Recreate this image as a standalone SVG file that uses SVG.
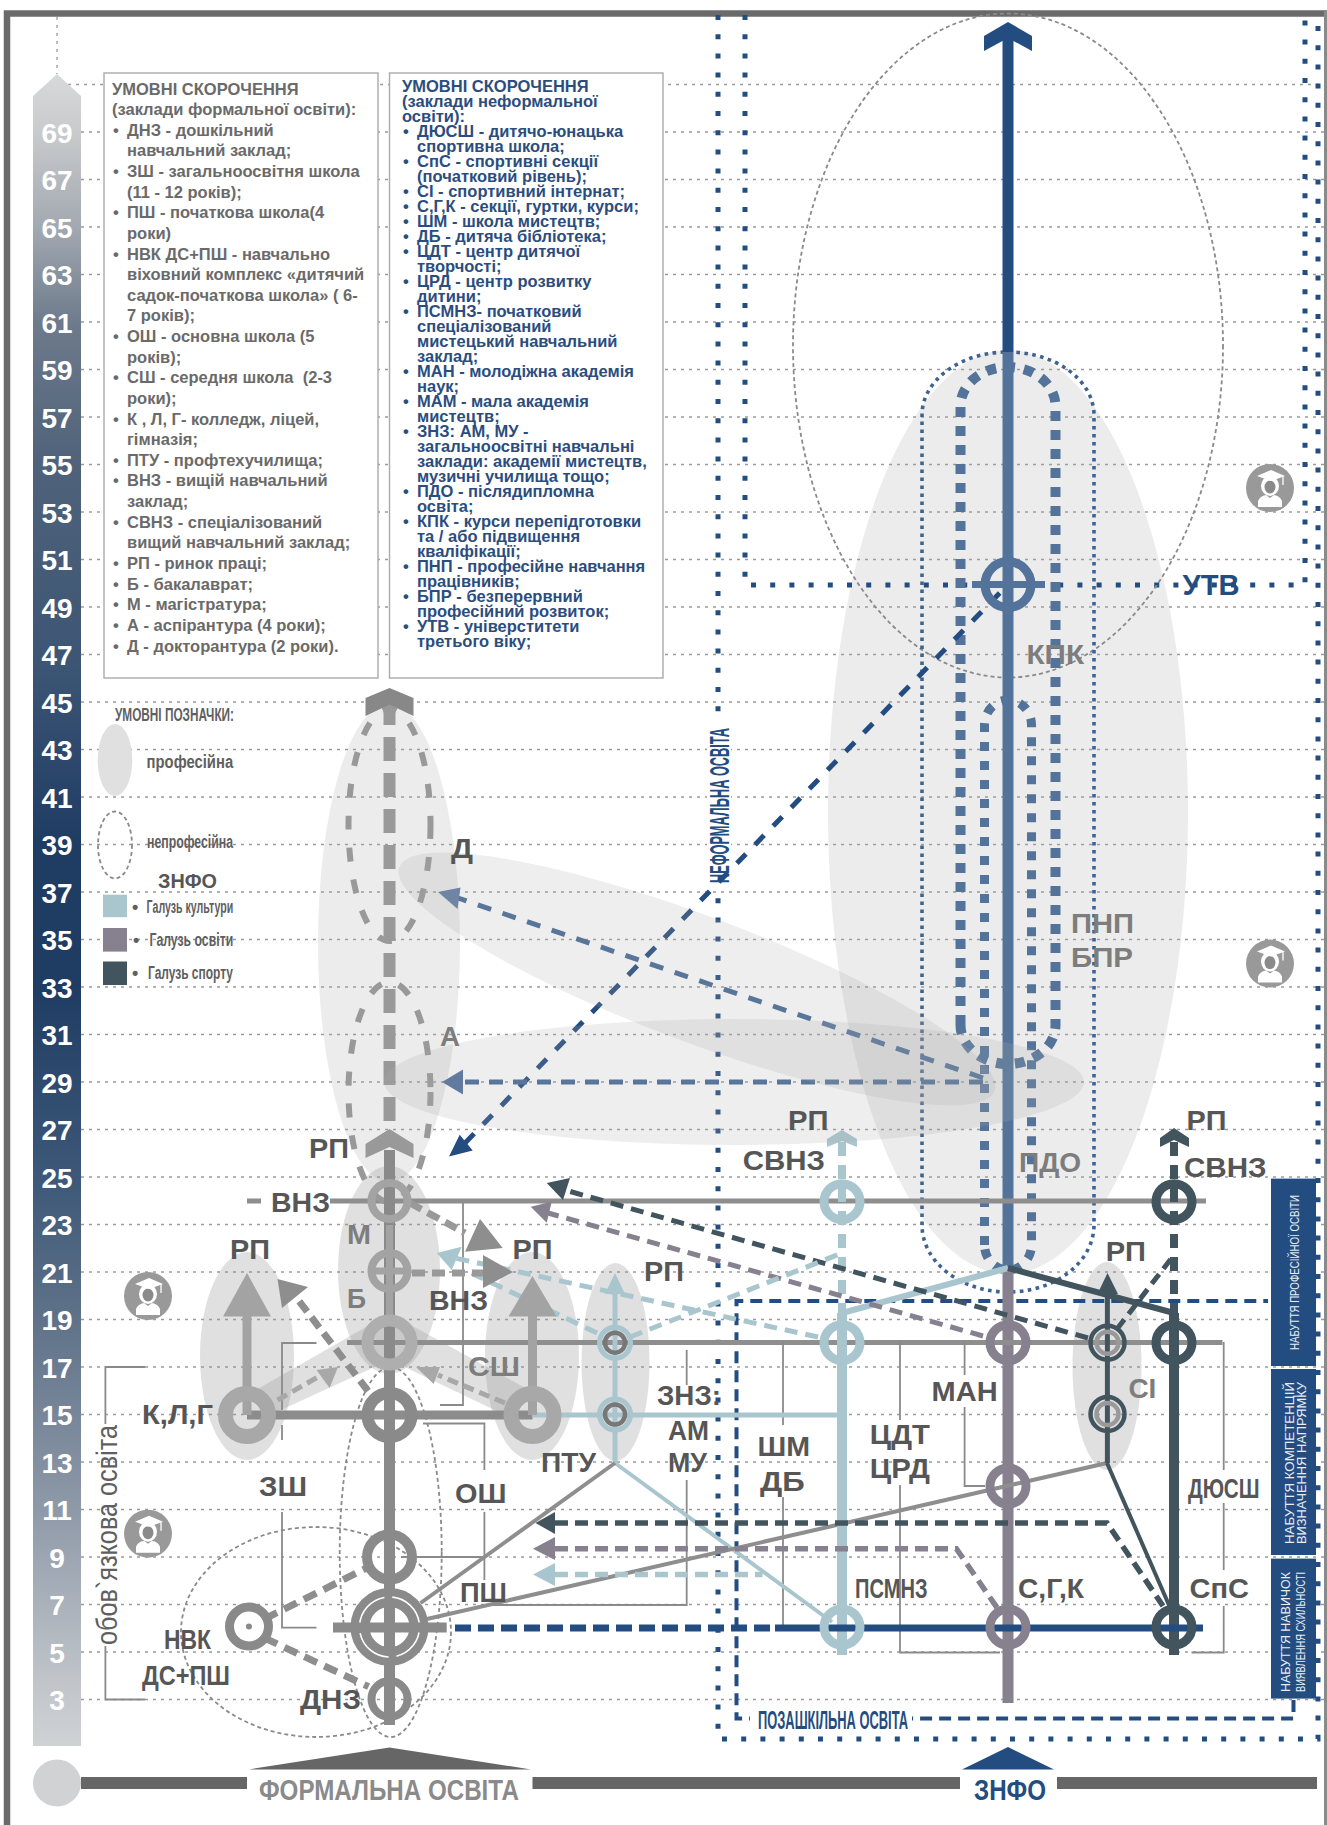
<svg xmlns="http://www.w3.org/2000/svg" width="1327" height="1825" viewBox="0 0 1327 1825">
<style>
text{font-family:"Liberation Sans",Arial,sans-serif}
.num{font-size:28px;font-weight:700;fill:#fff;text-anchor:middle}
.lg{font-size:16.5px;font-weight:700;fill:#6a6a6a}
.lb{font-size:16.5px;font-weight:700;fill:#2b4d7e}
.l{font-size:28px;font-weight:700;fill:#565656}
.m{font-size:28px;font-weight:700;fill:#7d7d7d}
.k{font-size:18px;font-weight:700;fill:#5f5f5f}
.n{font-weight:700;fill:#234c80}
.v{font-size:12px;fill:#e8edf3;font-weight:400;text-anchor:middle}
.grid{fill:none;stroke:#9a9a9a;stroke-width:1.3;stroke-dasharray:3 5}
.thin{fill:none;stroke:#8a8a8a;stroke-width:1.8;stroke-dasharray:4 3}
.soft{fill:#aaa;opacity:.22}
.soft3{fill:#aaa;opacity:.2}
.soft2{fill:#999;opacity:.3}
.br{fill:none;stroke:#8a8a8a;stroke-width:1.8}
.dot{fill:none;stroke:#234c80;stroke-width:5;stroke-dasharray:5 14.2}
.f{fill:none}
.ga{stroke:#999;stroke-width:6;stroke-dasharray:14 18;fill:none}
.blue{fill:#a9c6cf}.pur{fill:#87808f}.drk{fill:#42555e}.nav{fill:#234c80}.gr{fill:#999}
.lt{stroke:#a9c6cf}.pr{stroke:#87808f}.dk{stroke:#42555e}.nv{stroke:#234c80}.gy{stroke:#8e8e8e}
</style>
<defs>
<linearGradient id="scale" gradientUnits="userSpaceOnUse" x1="0" y1="74" x2="0" y2="1746">
<stop offset="0" stop-color="#d8d9da"/><stop offset=".035" stop-color="#c8cacc"/><stop offset=".09" stop-color="#a4aab2"/><stop offset=".15" stop-color="#6d7a8b"/><stop offset=".234" stop-color="#4f627a"/><stop offset=".35" stop-color="#3d5675"/><stop offset=".46" stop-color="#1f3c63"/><stop offset=".546" stop-color="#1f3c63"/><stop offset=".66" stop-color="#3d5878"/><stop offset=".745" stop-color="#5f7289"/><stop offset=".86" stop-color="#8f9aa9"/><stop offset=".97" stop-color="#c4c8cc"/><stop offset="1" stop-color="#cfd2d5"/>
</linearGradient>
<g id="icon">
<circle r="24" fill="#999"/>
<path d="M-12,19 V13 Q-10,8 -4,7 L0,10 L4,7 Q10,8 12,13 V19 Z" fill="#fff"/>
<ellipse cx="0" cy="-2" rx="9" ry="10" fill="#fff"/>
<ellipse cx="0" cy="-1" rx="5.5" ry="6.5" fill="#8a8a8a"/>
<path d="M1,-18 L15,-12 L1,-7 L-13,-12 Z" fill="#fff"/>
<path d="M13,-12 V-3" stroke="#fff" stroke-width="1.3" fill="none"/>
</g>
</defs>
<rect width="1327" height="1825" fill="#fff"/>
<path class="grid" d="M60,84.5H1327M81,132H1327M81,179.5H1327M81,227H1327M81,274.5H1327M81,322H1327M81,369.5H1327M81,417H1327M81,464.5H1327M81,512H1327M81,559.5H1327M81,607H1327M81,654.5H1327M81,702H1327M81,749.5H1327M81,797H1327M81,844.5H1327M81,892H1327M81,939.5H1327M81,987H1327M81,1034.5H1327M81,1082H1327M81,1129.5H1327M81,1177H1327M81,1224.5H1327M81,1272H1327M81,1319.5H1327M81,1367H1327M81,1414.5H1327M81,1462H1327M81,1509.5H1327M81,1557H1327M81,1604.5H1327M81,1652H1327M81,1699.5H1327M57,17V74"/>
<path d="M7,1825V13.5H1327" fill="none" stroke="#6a6a6a" stroke-width="6.5"/>
<path d="M1325.5,10V1825" stroke="#8a8a8a" stroke-width="3" fill="none"/>

<g id="age-scale">
<polygon points="57,74 81,96 81,1746 33,1746 33,96" fill="url(#scale)"/>
<text class="num" x="57" y="142.5">69</text><text class="num" x="57" y="190">67</text><text class="num" x="57" y="237.5">65</text><text class="num" x="57" y="285">63</text><text class="num" x="57" y="332.5">61</text><text class="num" x="57" y="380">59</text><text class="num" x="57" y="427.5">57</text><text class="num" x="57" y="475">55</text><text class="num" x="57" y="522.5">53</text><text class="num" x="57" y="570">51</text><text class="num" x="57" y="617.5">49</text><text class="num" x="57" y="665">47</text><text class="num" x="57" y="712.5">45</text><text class="num" x="57" y="760">43</text><text class="num" x="57" y="807.5">41</text><text class="num" x="57" y="855">39</text><text class="num" x="57" y="902.5">37</text><text class="num" x="57" y="950">35</text><text class="num" x="57" y="997.5">33</text><text class="num" x="57" y="1045">31</text><text class="num" x="57" y="1092.5">29</text><text class="num" x="57" y="1140">27</text><text class="num" x="57" y="1187.5">25</text><text class="num" x="57" y="1235">23</text><text class="num" x="57" y="1282.5">21</text><text class="num" x="57" y="1330">19</text><text class="num" x="57" y="1377.5">17</text><text class="num" x="57" y="1425">15</text><text class="num" x="57" y="1472.5">13</text><text class="num" x="57" y="1520">11</text><text class="num" x="57" y="1567.5">9</text><text class="num" x="57" y="1615">7</text><text class="num" x="57" y="1662.5">5</text><text class="num" x="57" y="1710">3</text>
</g>

<g id="legend-formal">
<rect x="104" y="73" width="274" height="605" fill="#fff" stroke="#aaa" stroke-width="1.4"/>
<text class="lg" x="112" y="94.5">УМОВНІ СКОРОЧЕННЯ</text>
<text class="lg" x="112" y="115.1">(заклади формальної освіти):</text>
<text class="lg" y="135.8"><tspan x="113">•</tspan><tspan x="127">ДНЗ - дошкільний</tspan></text>
<text class="lg" x="127" y="156.4">навчальний заклад;</text>
<text class="lg" y="177"><tspan x="113">•</tspan><tspan x="127">ЗШ - загальноосвітня школа</tspan></text>
<text class="lg" x="127" y="197.7">(11 - 12 років);</text>
<text class="lg" y="218.3"><tspan x="113">•</tspan><tspan x="127">ПШ - початкова школа(4</tspan></text>
<text class="lg" x="127" y="238.9">роки)</text>
<text class="lg" y="259.5"><tspan x="113">•</tspan><tspan x="127">НВК ДС+ПШ - навчально</tspan></text>
<text class="lg" x="127" y="280.2">віховний комплекс «дитячий</text>
<text class="lg" x="127" y="300.8">садок-початкова школа» ( 6-</text>
<text class="lg" x="127" y="321.4">7 років);</text>
<text class="lg" y="342"><tspan x="113">•</tspan><tspan x="127">ОШ - основна школа (5</tspan></text>
<text class="lg" x="127" y="362.7">років);</text>
<text class="lg" y="383.3" xml:space="preserve"><tspan x="113">•</tspan><tspan x="127">СШ - середня школа  (2-3</tspan></text>
<text class="lg" x="127" y="403.9">роки);</text>
<text class="lg" y="424.6"><tspan x="113">•</tspan><tspan x="127">К , Л, Г- колледж, ліцей,</tspan></text>
<text class="lg" x="127" y="445.2">гімназія;</text>
<text class="lg" y="465.8"><tspan x="113">•</tspan><tspan x="127">ПТУ - профтехучилища;</tspan></text>
<text class="lg" y="486.4"><tspan x="113">•</tspan><tspan x="127">ВНЗ - вищій навчальний</tspan></text>
<text class="lg" x="127" y="507.1">заклад;</text>
<text class="lg" y="527.7"><tspan x="113">•</tspan><tspan x="127">СВНЗ - спеціалізований</tspan></text>
<text class="lg" x="127" y="548.3">вищий навчальний заклад;</text>
<text class="lg" y="569"><tspan x="113">•</tspan><tspan x="127">РП - ринок праці;</tspan></text>
<text class="lg" y="589.6"><tspan x="113">•</tspan><tspan x="127">Б - бакалаврат;</tspan></text>
<text class="lg" y="610.2"><tspan x="113">•</tspan><tspan x="127">М - магістратура;</tspan></text>
<text class="lg" y="630.8"><tspan x="113">•</tspan><tspan x="127">А - аспірантура (4 роки);</tspan></text>
<text class="lg" y="651.5"><tspan x="113">•</tspan><tspan x="127">Д - докторантура (2 роки).</tspan></text>
</g>

<g id="legend-nonformal">
<rect x="389.5" y="73" width="273.5" height="605" fill="#fff" stroke="#aaa" stroke-width="1.4"/>
<text class="lb" x="402" y="92">УМОВНІ СКОРОЧЕННЯ</text>
<text class="lb" x="402" y="107">(заклади неформальної</text>
<text class="lb" x="402" y="122">освіти):</text>
<text class="lb" y="137"><tspan x="403">•</tspan><tspan x="417">ДЮСШ - дитячо-юнацька</tspan></text>
<text class="lb" x="417" y="152">спортивна школа;</text>
<text class="lb" y="167"><tspan x="403">•</tspan><tspan x="417">СпС - спортивні секції</tspan></text>
<text class="lb" x="417" y="182">(початковий рівень);</text>
<text class="lb" y="197"><tspan x="403">•</tspan><tspan x="417">СІ - спортивний інтернат;</tspan></text>
<text class="lb" y="212"><tspan x="403">•</tspan><tspan x="417">С,Г,К - секції, гуртки, курси;</tspan></text>
<text class="lb" y="227"><tspan x="403">•</tspan><tspan x="417">ШМ - школа мистецтв;</tspan></text>
<text class="lb" y="242"><tspan x="403">•</tspan><tspan x="417">ДБ - дитяча бібліотека;</tspan></text>
<text class="lb" y="257"><tspan x="403">•</tspan><tspan x="417">ЦДТ - центр дитячої</tspan></text>
<text class="lb" x="417" y="272">творчості;</text>
<text class="lb" y="287"><tspan x="403">•</tspan><tspan x="417">ЦРД - центр розвитку</tspan></text>
<text class="lb" x="417" y="302">дитини;</text>
<text class="lb" y="317"><tspan x="403">•</tspan><tspan x="417">ПСМНЗ- початковий</tspan></text>
<text class="lb" x="417" y="332">спеціалізований</text>
<text class="lb" x="417" y="347">мистецький навчальний</text>
<text class="lb" x="417" y="362">заклад;</text>
<text class="lb" y="377"><tspan x="403">•</tspan><tspan x="417">МАН - молодіжна академія</tspan></text>
<text class="lb" x="417" y="392">наук;</text>
<text class="lb" y="407"><tspan x="403">•</tspan><tspan x="417">МАМ - мала академія</tspan></text>
<text class="lb" x="417" y="422">мистецтв;</text>
<text class="lb" y="437"><tspan x="403">•</tspan><tspan x="417">ЗНЗ: АМ, МУ -</tspan></text>
<text class="lb" x="417" y="452">загальноосвітні навчальні</text>
<text class="lb" x="417" y="467">заклади: академії мистецтв,</text>
<text class="lb" x="417" y="482">музичні училища тощо;</text>
<text class="lb" y="497"><tspan x="403">•</tspan><tspan x="417">ПДО - післядипломна</tspan></text>
<text class="lb" x="417" y="512">освіта;</text>
<text class="lb" y="527"><tspan x="403">•</tspan><tspan x="417">КПК - курси перепідготовки</tspan></text>
<text class="lb" x="417" y="542">та / або підвищення</text>
<text class="lb" x="417" y="557">кваліфікації;</text>
<text class="lb" y="572"><tspan x="403">•</tspan><tspan x="417">ПНП - професійне навчання</tspan></text>
<text class="lb" x="417" y="587">працівників;</text>
<text class="lb" y="602"><tspan x="403">•</tspan><tspan x="417">БПР - безперервний</tspan></text>
<text class="lb" x="417" y="617">професійний розвиток;</text>
<text class="lb" y="632"><tspan x="403">•</tspan><tspan x="417">УТВ - універститети</tspan></text>
<text class="lb" x="417" y="647">третього віку;</text>
</g>

<g id="legend-symbols">
<text class="k" x="115" y="720.7" textLength="119" lengthAdjust="spacingAndGlyphs">УМОВНІ ПОЗНАЧКИ:</text>
<ellipse cx="115" cy="760" rx="17.3" ry="36" fill="#e0e0e0"/>
<text class="k" x="146.6" y="768" textLength="86.6" lengthAdjust="spacingAndGlyphs">професійна</text>
<ellipse cx="115" cy="845" rx="17" ry="33.5" class="thin"/>
<text class="k" x="147" y="848" textLength="86" lengthAdjust="spacingAndGlyphs">непрофесійна</text>
<text class="l" x="158" y="887.6" style="font-size:20px" textLength="59" lengthAdjust="spacingAndGlyphs">ЗНФО</text>
<rect x="103" y="894.7" width="24" height="22.5" class="blue"/>
<rect x="103" y="928" width="24" height="23.6" class="pur"/>
<rect x="103" y="961.5" width="24" height="23.5" class="drk"/>
<text class="k" x="132" y="913">•</text><text class="k" x="146.6" y="913" textLength="86.6" lengthAdjust="spacingAndGlyphs">Галузь культури</text>
<text class="k" x="133" y="945.7">•</text><text class="k" x="149.6" y="945.7" textLength="83.6" lengthAdjust="spacingAndGlyphs">Галузь освіти</text>
<text class="k" x="132" y="978.5">•</text><text class="k" x="148" y="978.5" textLength="85" lengthAdjust="spacingAndGlyphs">Галузь спорту</text>
</g>

<g id="zones">
<ellipse class="soft" cx="1008" cy="812" rx="180" ry="462"/>
<ellipse class="soft" cx="389" cy="943" rx="71" ry="239"/>
<ellipse class="soft2" cx="389" cy="1270" rx="51" ry="104"/>
<ellipse class="soft2" cx="247" cy="1356" rx="47" ry="104"/>
<ellipse class="soft2" cx="532" cy="1356" rx="47" ry="104"/>
<ellipse class="soft2" cx="615.5" cy="1362" rx="34" ry="99"/>
<ellipse class="soft2" cx="1107" cy="1366" rx="34.5" ry="104"/>
<polygon class="soft2" points="247,1395 373,1323 407,1323 531,1391 505,1415 390,1360 270,1415"/>
</g>

<g id="connectors">
<path class="dot" d="M718,15V1739H1318V15"/>
<path class="dot" d="M745,15V585H1305V15"/>
<rect x="707" y="722" width="24" height="162" fill="#fff"/>
<path d="M1293.5,1700V1718.6H736.5V1301H1268" fill="none" stroke="#234c80" stroke-width="4" stroke-dasharray="12 7"/>
<rect x="750" y="1706" width="162" height="25" fill="#fff"/>
<ellipse class="thin" cx="1008" cy="345.5" rx="215" ry="332"/>
<path d="M922,1225V415A86,63 0 0 1 1094,415V1225A86,67 0 0 1 922,1225Z" fill="none" stroke="#3f6391" stroke-width="3.6" stroke-dasharray="3.6 4.4"/>
<path d="M960.5,1025V406A47.5,39 0 0 1 1055.5,406V1025A47.5,39 0 0 1 960.5,1025Z" fill="none" stroke="#53739b" stroke-width="10" stroke-dasharray="10 9"/>
<path d="M984.5,1245V725A23.5,25 0 0 1 1031.5,725V1245A23.5,25 0 0 1 984.5,1245Z" fill="none" stroke="#53739b" stroke-width="9" stroke-dasharray="9 10"/>
<path d="M1008,36V352" stroke="#234c80" stroke-width="11" fill="none"/>
<path d="M1008,352V1270" stroke="#53739b" stroke-width="11" fill="none"/>
<path d="M1008,1270V1703" class="pr" stroke-width="11" fill="none"/>
<path d="M1008,1268L842,1313" class="lt" stroke-width="6" fill="none"/>
<path d="M1008,1268L1174,1313" class="dk" stroke-width="6" fill="none"/>

<path d="M330,1201H1206M247,1201H261" class="gy" stroke-width="5" fill="none"/>
<path d="M347,1342.5H1222.5" class="gy" stroke-width="5" fill="none"/>
<path class="br" d="M316.5,1343H282V1410M282,1425V1440M282,1512V1627.6H316.5"/>
<path class="br" d="M423,1423.5H484.4V1470M484.4,1512V1580M401,1557H484.4"/>
<path class="br" d="M463,1201V1405H440"/>
<path class="br" d="M486,1605H686.7V1480M686.7,1350V1385"/>
<path class="br" d="M783,1342V1425M783,1497V1627H830"/>
<path class="br" d="M900,1342V1420M900,1485V1652.5H1000"/>
<path class="br" d="M964.6,1342V1375M964.6,1407V1486H985"/>
<path class="br" d="M1223.7,1342V1470M1223.7,1503V1570M1223.7,1606V1652.5H1191.5"/>
<path class="br" d="M145,1367H105.4V1424M105.4,1646V1699.5H145"/>
<ellipse class="thin" cx="316" cy="1632" rx="135" ry="105"/>
<ellipse class="thin" cx="390.7" cy="1552" rx="51" ry="185"/>

<path class="ga" d="M389.5,701V1125" style="stroke-width:12;stroke-dasharray:24 12"/>
<ellipse class="ga" cx="389.5" cy="825" rx="41" ry="116"/>
<ellipse class="ga" cx="389.5" cy="1092" rx="41" ry="110"/>
<path d="M389.5,1150V1725" stroke="#8a8a8a" stroke-width="11" fill="none"/>
<path d="M247,1415H532.5" stroke="#8c8c8c" stroke-width="9" fill="none"/>
<path d="M532.5,1415H842" class="lt" stroke-width="5" fill="none"/>
<path d="M247,1415V1316" stroke="#a3a3a3" stroke-width="9" fill="none"/>
<path d="M532.5,1415V1316" stroke="#a3a3a3" stroke-width="9" fill="none"/>
<path d="M615,1464V1290" class="lt" stroke-width="5" fill="none"/>
<path d="M615,1463L832,1622" class="lt" stroke-width="4" fill="none"/>
<path d="M615,1463L420.6,1603" class="gy" stroke-width="4" fill="none"/>
<path d="M427,1619L1107,1463" class="gy" stroke-width="4" fill="none"/>
<path d="M842,1655V1313" class="lt" stroke-width="10" fill="none"/>
<path d="M1174,1655V1313" class="dk" stroke-width="10" fill="none"/>
<path d="M842,1142V1313" class="lt" stroke-width="8" stroke-dasharray="14 9" fill="none"/>
<path d="M1174,1142V1313" class="dk" stroke-width="8" stroke-dasharray="14 9" fill="none"/>
<path d="M1107.4,1463V1290" class="dk" stroke-width="5" fill="none"/>
<path d="M1107,1463L1172,1612" class="dk" stroke-width="4" fill="none"/>
<path d="M1117,1329L1174,1255" class="dk" stroke-width="5" stroke-dasharray="12 7" fill="none"/>
<path d="M455,1628H775" class="nv" stroke-width="7" stroke-dasharray="16 7" fill="none"/>
<path d="M775,1628H1203" class="nv" stroke-width="7" fill="none"/>
<path d="M555,1523H1107L1163,1606" class="dk" stroke-width="5.5" stroke-dasharray="13 7" fill="none"/>
<path d="M555,1548.7H956.4L997.6,1608.5" class="pr" stroke-width="5.5" stroke-dasharray="13 7" fill="none"/>
<path d="M555,1574.4H762.5" class="lt" stroke-width="5.5" stroke-dasharray="13 7" fill="none"/>
<polygon class="drk" points="535.5,1523 555,1512 555,1534"/>
<polygon class="pur" points="533,1548.7 555,1537 555,1560"/>
<polygon class="blue" points="533,1574.4 555,1563 555,1586"/>
<path d="M1088,1338L565,1190" class="dk" stroke-width="5" stroke-dasharray="13 8" fill="none"/>
<polygon class="drk" points="546.7,1183 570,1178 563,1200"/>
<path d="M983,1336L548,1213" class="pr" stroke-width="5" stroke-dasharray="13 8" fill="none"/>
<polygon class="pur" points="530.7,1206.7 551.7,1201.7 546.7,1222.7"/>
<path d="M818,1337L455,1258" class="lt" stroke-width="5" stroke-dasharray="13 8" fill="none"/>
<path d="M597,1333L465,1270" class="lt" stroke-width="5" stroke-dasharray="13 8" fill="none"/>
<path d="M630,1337L842,1253" class="lt" stroke-width="5" stroke-dasharray="13 8" fill="none"/>
<polygon class="blue" points="436.7,1253 461.7,1246.7 451.7,1270"/>
<path d="M410,1203L465,1233" stroke="#999" stroke-width="7" stroke-dasharray="13 7" fill="none"/>
<polygon fill="#8e8e8e" points="480,1219 502.7,1248 465,1251.7"/>
<path d="M412,1273H485" stroke="#999" stroke-width="7" stroke-dasharray="13 7" fill="none"/>
<polygon fill="#8e8e8e" points="483,1255 513,1272 483,1288"/>
<path d="M368,1391L299,1301" stroke="#8e8e8e" stroke-width="7" stroke-dasharray="13 7" fill="none"/>
<polygon fill="#8e8e8e" points="277.5,1279 308,1287 282,1308"/>
<path d="M277.5,1400L318,1377" stroke="#a8a8a8" stroke-width="5" stroke-dasharray="11 6" fill="none"/>
<polygon fill="#a8a8a8" points="316.5,1370 338,1367 329.6,1388"/>
<path d="M505,1403L438,1375" stroke="#a8a8a8" stroke-width="5" stroke-dasharray="11 6" fill="none"/>
<polygon fill="#a8a8a8" points="416,1367 440,1367 433.6,1384"/>
<path d="M264.5,1619L368.6,1567" stroke="#8e8e8e" stroke-width="7" stroke-dasharray="14 8" fill="none"/>
<path d="M264.5,1638L368.6,1686.7" stroke="#8e8e8e" stroke-width="7" stroke-dasharray="14 8" fill="none"/>
<path d="M999.7,593L465,1143" class="nv" stroke-width="5" stroke-dasharray="13 13" fill="none"/>
<polygon class="nav" points="449,1156.5 472.7,1150.6 459.7,1134.7"/>
<path d="M983,1078L458,898" stroke="#456a96" stroke-width="5" stroke-dasharray="14 12" fill="none"/>
<polygon fill="#5f7ea3" points="438,892 460.5,887.6 457.5,909"/>
<path d="M983,1082H463" stroke="#456a96" stroke-width="5" stroke-dasharray="14 10" fill="none"/>
<polygon fill="#4f6f9c" points="442,1082 463,1069.5 463,1094.5"/>
<polygon fill="#888" points="389.5,688 413.5,698 413.5,716 389.5,704.5 365.5,716 365.5,698"/>
<polygon fill="#999" points="389.5,1129 413.5,1144 413.5,1158 389.5,1147 365.5,1158 365.5,1144"/>
<polygon class="blue" points="842,1130 857,1139 857,1147 842,1141 827,1147 827,1139"/>
<polygon class="drk" points="1174,1128 1189,1138 1189,1147 1174,1140 1160,1147 1160,1138"/>
<polygon class="nav" points="1008,22 1032,36 1032,51 1008,38 984,51 984,36"/>
<polygon fill="#a3a3a3" points="247,1273 271,1316.5 223,1316.5"/>
<polygon fill="#a3a3a3" points="532.5,1276 556.5,1316.5 508.5,1316.5"/>
<polygon fill="#a9c6cf" points="615,1273 625,1294 605,1294"/>
<polygon class="drk" points="1107.5,1273 1118,1294 1097.5,1294"/>
<ellipse class="soft3" cx="697" cy="979" rx="318" ry="63" transform="rotate(20.6 697 979)"/>
<ellipse class="soft3" cx="734" cy="1082" rx="350" ry="63"/>
</g>

<g id="node-utv"><circle cx="1008" cy="584.6" r="23" class="f" stroke="#53739b" stroke-width="9"/><path d="M972,584.6H1045" stroke="#53739b" stroke-width="7"/>
<text class="n" x="1182.5" y="595" style="font-size:29px" textLength="57" lengthAdjust="spacingAndGlyphs">УТВ</text></g>
<g id="node-vnz"><circle cx="389.5" cy="1201" r="18" class="f" stroke="#a3a3a3" stroke-width="8"/></g>
<g id="node-m"><circle cx="389.5" cy="1271" r="18" class="f" stroke="#a3a3a3" stroke-width="8"/><path d="M371,1271H408M389.5,1225V1320" stroke="#a3a3a3" stroke-width="7"/></g>
<g id="node-b"><circle cx="389.5" cy="1342.5" r="22" class="f" stroke="#aeaeae" stroke-width="12"/></g>
<g id="node-15"><circle cx="389.5" cy="1415" r="22" class="f" stroke="#8a8a8a" stroke-width="12"/></g>
<g id="node-9"><circle cx="389.5" cy="1557" r="22.5" class="f" stroke="#8a8a8a" stroke-width="10"/></g>
<g id="node-6"><circle cx="389.5" cy="1627" r="29.5" class="f" stroke="#8a8a8a" stroke-width="19"/><circle cx="389.5" cy="1627" r="30" class="f" stroke="#fff" stroke-width="1.6" stroke-dasharray="40 8"/><path d="M333,1627.5H446.7" stroke="#8a8a8a" stroke-width="10"/></g>
<g id="node-3"><circle cx="389.5" cy="1699" r="18" class="f" stroke="#8a8a8a" stroke-width="8"/></g>
<g id="node-klg"><circle cx="247" cy="1415" r="21.5" class="f" stroke="#a8a8a8" stroke-width="15"/></g>
<g id="node-ssh"><circle cx="532.5" cy="1415" r="21.5" class="f" stroke="#a8a8a8" stroke-width="15"/></g>
<g id="node-nvk"><circle cx="249" cy="1626.5" r="19.5" class="f" stroke="#8a8a8a" stroke-width="9"/><circle cx="249" cy="1626.5" r="3" fill="#8a8a8a"/></g>
<g id="node-ptu1"><circle cx="615" cy="1342.7" r="15.5" class="f lt" stroke-width="5"/><circle cx="615" cy="1342.7" r="10" class="f" stroke="#777" stroke-width="4.5"/></g>
<g id="node-ptu2"><circle cx="615" cy="1414.5" r="15.5" class="f lt" stroke-width="5"/><circle cx="615" cy="1414.5" r="10" class="f" stroke="#777" stroke-width="4.5"/></g>
<g id="node-c1"><circle cx="842" cy="1201.7" r="18" class="f lt" stroke-width="9"/></g>
<g id="node-c2"><circle cx="842" cy="1342.7" r="18" class="f lt" stroke-width="9"/></g>
<g id="node-c3"><circle cx="842" cy="1627" r="18" class="f lt" stroke-width="9"/></g>
<g id="node-e1"><circle cx="1008" cy="1342.7" r="18" class="f pr" stroke-width="9"/></g>
<g id="node-e2"><circle cx="1008" cy="1486" r="18" class="f pr" stroke-width="9"/></g>
<g id="node-e3"><circle cx="1008" cy="1627" r="18" class="f pr" stroke-width="9"/></g>
<g id="node-s1"><circle cx="1174" cy="1201.7" r="18" class="f dk" stroke-width="9"/></g>
<g id="node-s2"><circle cx="1174" cy="1342.7" r="18" class="f dk" stroke-width="9"/></g>
<g id="node-s3"><circle cx="1174" cy="1627" r="18" class="f dk" stroke-width="9"/></g>
<g id="node-si1"><circle cx="1107.5" cy="1342.7" r="17" class="f dk" stroke-width="4.5"/><circle cx="1107.5" cy="1342.7" r="11" class="f" stroke="#999" stroke-width="4.5"/></g>
<g id="node-si2"><circle cx="1107.5" cy="1414" r="17" class="f dk" stroke-width="4.5"/><circle cx="1107.5" cy="1414" r="11" class="f" stroke="#999" stroke-width="4.5"/></g>

<g id="labels">
<text class="l" x="271" y="1212" textLength="59" lengthAdjust="spacingAndGlyphs">ВНЗ</text>
<text class="l" x="309" y="1157.6" textLength="40" lengthAdjust="spacingAndGlyphs">РП</text>
<text class="l" x="451" y="858" textLength="22" lengthAdjust="spacingAndGlyphs">Д</text>
<text class="m" x="440" y="1046" textLength="20" lengthAdjust="spacingAndGlyphs">А</text>
<text class="m" x="347" y="1243.5" textLength="24" lengthAdjust="spacingAndGlyphs">М</text>
<text class="m" x="347" y="1308" textLength="19" lengthAdjust="spacingAndGlyphs">Б</text>
<text class="l" x="230" y="1259" textLength="40" lengthAdjust="spacingAndGlyphs">РП</text>
<text class="l" x="512.6" y="1259" textLength="40" lengthAdjust="spacingAndGlyphs">РП</text>
<text class="l" x="644" y="1281" textLength="40" lengthAdjust="spacingAndGlyphs">РП</text>
<text class="l" x="429" y="1309.5" textLength="59" lengthAdjust="spacingAndGlyphs">ВНЗ</text>
<text class="m" x="468" y="1376" textLength="52" lengthAdjust="spacingAndGlyphs">СШ</text>
<text class="l" x="142" y="1424" textLength="71" lengthAdjust="spacingAndGlyphs">К,Л,Г</text>
<text class="l" x="259" y="1495.5" textLength="48" lengthAdjust="spacingAndGlyphs">ЗШ</text>
<text class="l" x="455" y="1502.5" textLength="51.5" lengthAdjust="spacingAndGlyphs">ОШ</text>
<text class="l" x="460" y="1601.5" textLength="47" lengthAdjust="spacingAndGlyphs">ПШ</text>
<text class="l" x="541" y="1472" textLength="55" lengthAdjust="spacingAndGlyphs">ПТУ</text>
<text class="l" x="164" y="1648.5" textLength="47" lengthAdjust="spacingAndGlyphs">НВК</text>
<text class="l" x="142" y="1685" textLength="88" lengthAdjust="spacingAndGlyphs">ДС+ПШ</text>
<text class="l" x="300" y="1709" textLength="61" lengthAdjust="spacingAndGlyphs">ДНЗ</text>
<text transform="translate(117,1535) rotate(-90)" text-anchor="middle" style="font-size:29px;fill:#5f5f5f" textLength="220" lengthAdjust="spacingAndGlyphs">обов`язкова освіта</text>
<text class="l" x="657" y="1405" textLength="64" lengthAdjust="spacingAndGlyphs">ЗНЗ:</text>
<text class="l" x="668" y="1440" textLength="41" lengthAdjust="spacingAndGlyphs">АМ</text>
<text class="l" x="668" y="1472" textLength="39" lengthAdjust="spacingAndGlyphs">МУ</text>
<text class="l" x="757.5" y="1456" textLength="52.5" lengthAdjust="spacingAndGlyphs">ШМ</text>
<text class="l" x="760" y="1490.6" textLength="44.6" lengthAdjust="spacingAndGlyphs">ДБ</text>
<text class="l" x="869.8" y="1444.4" textLength="60" lengthAdjust="spacingAndGlyphs">ЦДТ</text>
<text class="l" x="869.8" y="1478" textLength="60" lengthAdjust="spacingAndGlyphs">ЦРД</text>
<text class="l" x="931.6" y="1400.5" textLength="66" lengthAdjust="spacingAndGlyphs">МАН</text>
<text class="l" x="1188" y="1497.6" textLength="71.6" lengthAdjust="spacingAndGlyphs">ДЮСШ</text>
<text class="l" x="1189.5" y="1598" textLength="59.5" lengthAdjust="spacingAndGlyphs">СпС</text>
<text class="l" x="1018" y="1598" textLength="66" lengthAdjust="spacingAndGlyphs">С,Г,К</text>
<text class="l" x="855" y="1598" textLength="72.5" lengthAdjust="spacingAndGlyphs">ПСМНЗ</text>
<text class="m" x="1019" y="1171.6" textLength="62" lengthAdjust="spacingAndGlyphs">ПДО</text>
<text class="m" x="1071" y="933" textLength="63" lengthAdjust="spacingAndGlyphs">ПНП</text>
<text class="m" x="1071" y="966.6" textLength="62" lengthAdjust="spacingAndGlyphs">БПР</text>
<text class="m" x="1026.5" y="664" textLength="57.5" lengthAdjust="spacingAndGlyphs">КПК</text>
<text class="m" x="1128.4" y="1398" textLength="28" lengthAdjust="spacingAndGlyphs">СІ</text>
<text class="l" x="788" y="1130" textLength="40.5" lengthAdjust="spacingAndGlyphs">РП</text>
<text class="l" x="742.7" y="1170" textLength="82.3" lengthAdjust="spacingAndGlyphs">СВНЗ</text>
<text class="l" x="1186.6" y="1130" textLength="40" lengthAdjust="spacingAndGlyphs">РП</text>
<text class="l" x="1184" y="1177" textLength="82.6" lengthAdjust="spacingAndGlyphs">СВНЗ</text>
<text class="l" x="1105.7" y="1261" textLength="40.3" lengthAdjust="spacingAndGlyphs">РП</text>
<text class="n" transform="translate(729,883) rotate(-90)" style="font-size:27px" textLength="155" lengthAdjust="spacingAndGlyphs">НЕФОРМАЛЬНА ОСВІТА</text>
<text class="n" x="758" y="1729" style="font-size:26px" textLength="150" lengthAdjust="spacingAndGlyphs">ПОЗАШКІЛЬНА ОСВІТА</text>
</g>

<g id="axis-bottom">
<ellipse cx="57" cy="1783" rx="24" ry="23.5" fill="#d0d2d4"/>
<path d="M81,1783H247M532.5,1783H960M1057,1783H1317" stroke="#666" stroke-width="12" fill="none"/>
<polygon points="389.5,1747.5 531,1769.4 249,1769.4" fill="#666"/>
<text x="259" y="1799.6" style="font-size:29px;font-weight:700;fill:#8a8a8a" textLength="260" lengthAdjust="spacingAndGlyphs">ФОРМАЛЬНА ОСВІТА</text>
<polygon class="nav" points="1008,1747 1054,1769.5 962,1769.5"/>
<text class="n" x="974" y="1799.5" style="font-size:29px" textLength="72" lengthAdjust="spacingAndGlyphs">ЗНФО</text>
</g>

<g id="stages">
<rect class="nav" x="1271" y="1178.6" width="45" height="187.4"/>
<rect class="nav" x="1271" y="1369" width="45" height="186"/>
<rect class="nav" x="1271" y="1558.6" width="45" height="140"/>
<text class="v" transform="translate(1299,1272.5) rotate(-90)" textLength="155" lengthAdjust="spacingAndGlyphs">НАБУТТЯ ПРОФЕСІЙНОЇ ОСВІТИ</text>
<text class="v" transform="translate(1294,1463) rotate(-90)" textLength="162" lengthAdjust="spacingAndGlyphs">НАБУТТЯ  КОМПЕТЕНЦІЙ</text>
<text class="v" transform="translate(1306,1463) rotate(-90)" textLength="162" lengthAdjust="spacingAndGlyphs">ВИЗНАЧЕННЯ НАПРЯМКУ</text>
<text class="v" transform="translate(1290,1632) rotate(-90)" textLength="120" lengthAdjust="spacingAndGlyphs">НАБУТТЯ  НАВИЧОК</text>
<text class="v" transform="translate(1305,1632) rotate(-90)" textLength="120" lengthAdjust="spacingAndGlyphs">ВИЯВЛЕННЯ СХИЛЬНОСТІ</text>
</g>

<g id="icons">
<use href="#icon" transform="translate(1270,488)"/>
<use href="#icon" transform="translate(1270,963.6)"/>
<use href="#icon" transform="translate(148,1296)"/>
<use href="#icon" transform="translate(148,1533.7)"/>
</g>
</svg>
